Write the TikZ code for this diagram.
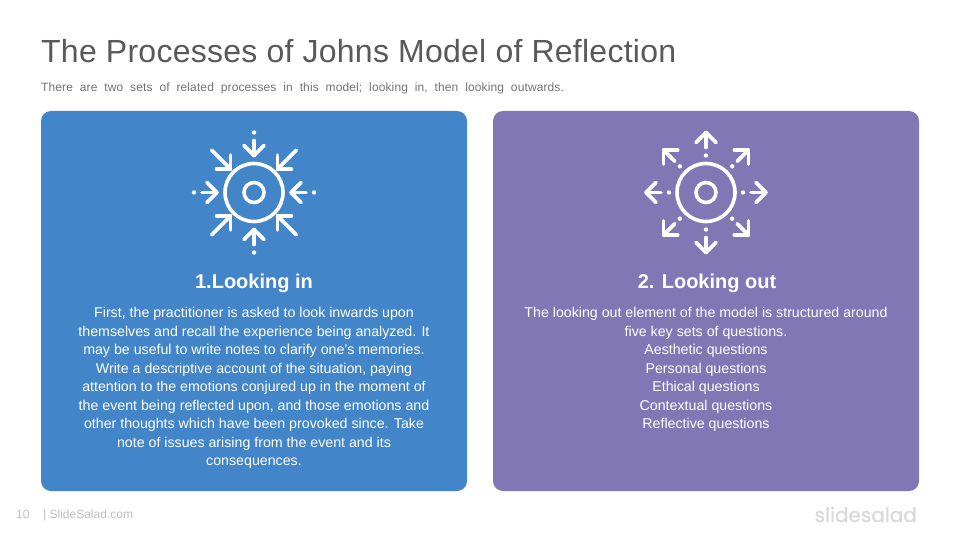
\documentclass[tikz,border=0pt]{standalone}
\usepackage{fontspec}
\setmainfont{Liberation Sans}
\newfontfamily\logofont[FakeBold=0.8]{Poppins}
\newfontfamily\subfont[WordSpace=2.0,LetterSpace=1]{Liberation Sans}
\definecolor{cardblue}{RGB}{66,133,200}
\definecolor{cardpurple}{RGB}{129,119,181}
\definecolor{titlegray}{RGB}{89,89,89}
\definecolor{subgray}{RGB}{115,115,115}
\definecolor{footgray}{RGB}{190,190,190}
\definecolor{logogray}{RGB}{217,217,217}
\tikzset{
  card/.style={rounded corners=10pt},
  iconline/.style={draw=white,line width=3.6pt,line cap=round,line join=round},
  icondot/.style={fill=white},
  cardhead/.style={text=white,font=\fontsize{20}{24}\selectfont\bfseries,inner sep=0pt},
  cardtext/.style={text=white,align=center,anchor=north,inner sep=0pt,font=\fontsize{14.2}{18.45}\selectfont},
}
\begin{document}
\begin{tikzpicture}[x=1pt,y=-1pt]
  \useasboundingbox (0,0) rectangle (960,540);
  \fill[white] (0,0) rectangle (960,540);

  %title and subtitle
  \node[anchor=base west,inner sep=0pt,text=titlegray,font=\fontsize{32}{38}\selectfont] (title) at (41,63)
    {\addfontfeature{LetterSpace=0.8}The Processes of Johns Model of Reflection};
  \node[anchor=base west,inner sep=0pt,text=subgray,font=\fontsize{12}{14}\selectfont] (subtitle) at (41,91.5)
    {\subfont There are two sets of related processes in this model; looking in, then looking outwards.};

  %cards
  \fill[card,cardblue] (41,111) rectangle (467,491);
  \fill[card,cardpurple] (493,111) rectangle (919,491);

  %looking in icon
  \begin{scope}[shift={(254,192.5)}]
    \draw[iconline] (0,0) circle (29);
    \draw[iconline] (0,0) circle (10);
    \foreach \a in {0,90,180,270} {
      \begin{scope}[rotate=\a]
        \fill[icondot] (60,0) circle (2.2);
        \draw[iconline] (52,0) -- (37,0);
        \draw[iconline] (47,-10) -- (37,0) -- (47,10);
      \end{scope}
    }
    \foreach \a in {45,135,225,315} {
      \begin{scope}[rotate=\a]
        \draw[iconline] (60,0) -- (33,0);
        \draw[iconline] (43,-10) -- (33,0) -- (43,10);
      \end{scope}
    }
  \end{scope}

  %looking out icon
  \begin{scope}[shift={(706,192.5)}]
    \draw[iconline] (0,0) circle (29);
    \draw[iconline] (0,0) circle (10);
    \foreach \a in {0,90,180,270} {
      \begin{scope}[rotate=\a]
        \fill[icondot] (37,0) circle (2.2);
        \draw[iconline] (45,0) -- (60,0);
        \draw[iconline] (50,-10) -- (60,0) -- (50,10);
      \end{scope}
    }
    \foreach \a in {45,135,225,315} {
      \begin{scope}[rotate=\a]
        \fill[icondot] (37,0) circle (2.2);
        \draw[iconline] (44,0) -- (60,0);
        \draw[iconline] (50,-10) -- (60,0) -- (50,10);
      \end{scope}
    }
  \end{scope}

  %card texts
  \node[cardhead] (inhead) at (254,283.5) {1.Looking in};
  \node[cardhead] (outhead) at (707,283.5) {2. Looking out};
  \node[cardtext] (intext) at (254,307.5) {First, the practitioner is asked to look inwards upon\\
    themselves and recall the experience being analyzed. It\\
    may be useful to write notes to clarify one's memories.\\
    Write a descriptive account of the situation, paying\\
    attention to the emotions conjured up in the moment of\\
    the event being reflected upon, and those emotions and\\
    other thoughts which have been provoked since. Take\\
    note of issues arising from the event and its\\
    consequences.};
  \node[cardtext] (outtext) at (706,307.5) {The looking out element of the model is structured around\\
    five key sets of questions.\\
    Aesthetic questions\\
    Personal questions\\
    Ethical questions\\
    Contextual questions\\
    Reflective questions};

  %footer
  \node[anchor=base west,inner sep=0pt,text=footgray,font=\fontsize{12}{14}\selectfont] (pagenum) at (16,518) {10};
  \node[anchor=base west,inner sep=0pt,text=footgray,font=\fontsize{12}{14}\selectfont] (footer) at (43,518) {| SlideSalad.com};
  \node[anchor=base east,inner sep=0pt,text=logogray,font=\fontsize{20}{26}\logofont\selectfont] (logo) at (917,522) {slidesalad};
\end{tikzpicture}
\end{document}
